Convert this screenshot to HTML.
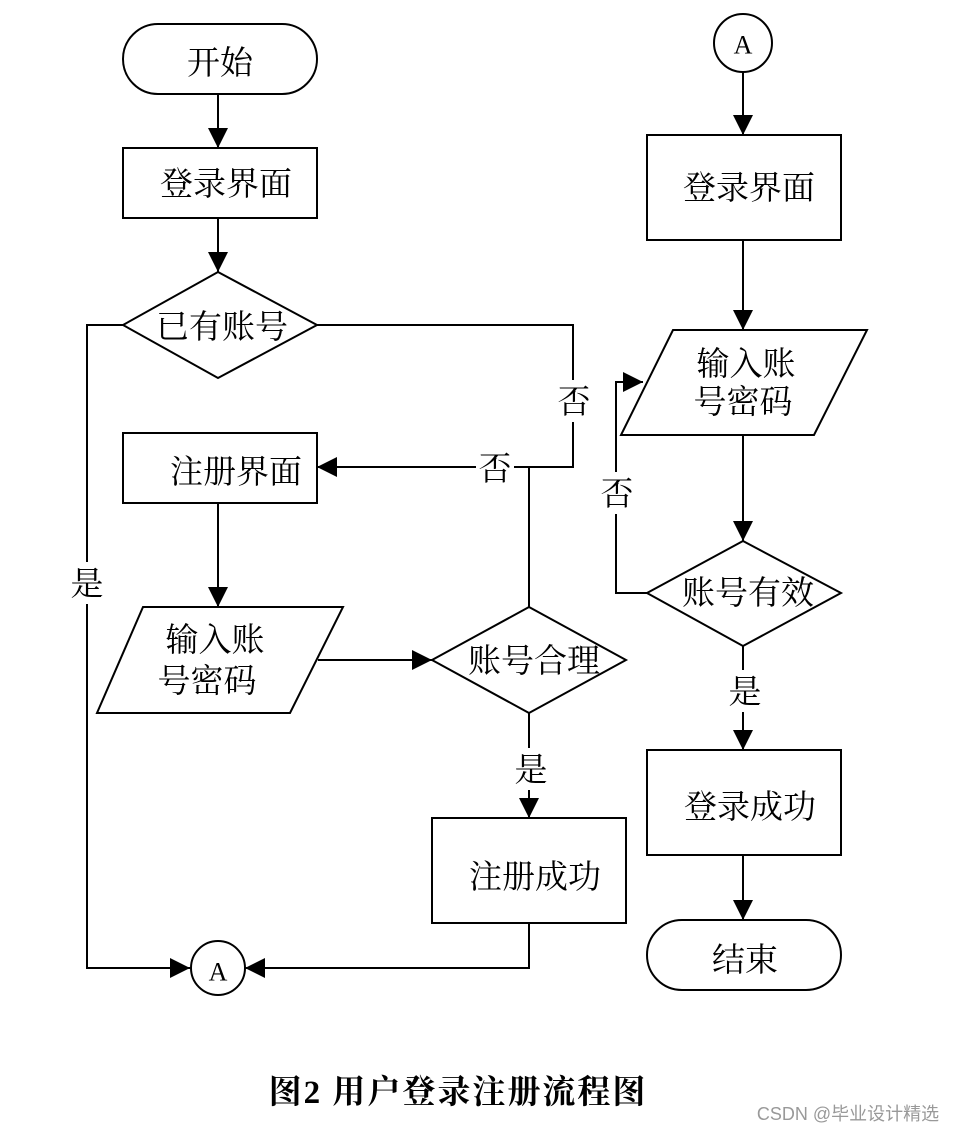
<!DOCTYPE html>
<html><head><meta charset="utf-8"><style>
html,body{margin:0;padding:0;background:#fff;}
svg{display:block;}
text{font-family:"Liberation Serif","Noto Serif CJK SC",serif;font-size:33px;fill:#000;}
</style></head><body>
<svg width="956" height="1136" viewBox="0 0 956 1136" xmlns="http://www.w3.org/2000/svg">
<defs>
<marker id="ar" markerWidth="22" markerHeight="22" refX="20" refY="10" orient="auto" markerUnits="userSpaceOnUse">
<path d="M0,0 L20,10 L0,20 Z" fill="#000"/>
</marker>
</defs>
<g fill="none" stroke="#000" stroke-width="2">
<rect x="123" y="24" width="194" height="70" rx="35"/>
<line x1="218" y1="94" x2="218" y2="148" marker-end="url(#ar)"/>
<rect x="123" y="148" width="194" height="70"/>
<line x1="218" y1="218" x2="218" y2="272" marker-end="url(#ar)"/>
<polygon points="218,272 317,325 218,378 123,325"/>
<polyline points="123,325 87,325 87,968 190,968" marker-end="url(#ar)"/>
<polyline points="317,325 573,325 573,467 317,467" marker-end="url(#ar)"/>
<rect x="123" y="433" width="194" height="70"/>
<line x1="218" y1="503" x2="218" y2="607" marker-end="url(#ar)"/>
<polygon points="143,607 343,607 290,713 97,713"/>
<line x1="318" y1="660" x2="432" y2="660" marker-end="url(#ar)"/>
<polygon points="529,607 626,660 529,713 432,660"/>
<line x1="529" y1="607" x2="529" y2="467"/>
<line x1="529" y1="713" x2="529" y2="818" marker-end="url(#ar)"/>
<rect x="432" y="818" width="194" height="105"/>
<polyline points="529,923 529,968 245,968" marker-end="url(#ar)"/>
<circle cx="218" cy="968" r="27"/>
<circle cx="743" cy="43" r="29"/>
<line x1="743" y1="72" x2="743" y2="135" marker-end="url(#ar)"/>
<rect x="647" y="135" width="194" height="105"/>
<line x1="743" y1="240" x2="743" y2="330" marker-end="url(#ar)"/>
<polygon points="673,330 867,330 814,435 621,435"/>
<line x1="743" y1="435" x2="743" y2="541" marker-end="url(#ar)"/>
<polygon points="743,541 841,593 743,646 647,593"/>
<polyline points="647,593 616,593 616,382 643,382" marker-end="url(#ar)"/>
<line x1="743" y1="646" x2="743" y2="750" marker-end="url(#ar)"/>
<rect x="647" y="750" width="194" height="105"/>
<line x1="743" y1="855" x2="743" y2="920" marker-end="url(#ar)"/>
<rect x="647" y="920" width="194" height="70" rx="35"/>
</g>
<g fill="#fff">
<rect x="70" y="562" width="34" height="42"/>
<rect x="556" y="380" width="36" height="42"/>
<rect x="476" y="447" width="38" height="40"/>
<rect x="512" y="748" width="36" height="42"/>
<rect x="598" y="472" width="36" height="42"/>
<rect x="726" y="670" width="36" height="42"/>
</g>
<g text-anchor="middle" dominant-baseline="central">
<text x="220" y="64">开始</text>
<text x="226" y="185">登录界面</text>
<text x="222" y="328">已有账号</text>
<text x="87" y="585">是</text>
<text x="574" y="403">否</text>
<text x="495" y="470">否</text>
<text x="236" y="473">注册界面</text>
<text x="215" y="641">输入账</text>
<text x="207" y="682">号密码</text>
<text x="534" y="662">账号合理</text>
<text x="531" y="771">是</text>
<text x="535" y="878">注册成功</text>
<text x="218" y="972" style="font-size:26px">A</text>
<text x="743" y="45" style="font-size:26px">A</text>
<text x="749" y="189">登录界面</text>
<text x="746" y="365">输入账</text>
<text x="743" y="403">号密码</text>
<text x="617" y="495">否</text>
<text x="748" y="594">账号有效</text>
<text x="745" y="693">是</text>
<text x="750" y="808">登录成功</text>
<text x="745" y="961">结束</text>
<text x="458" y="1093" style="font-size:33px;font-weight:bold;letter-spacing:2px">图2 用户登录注册流程图</text>
<text x="848" y="1114" style="font-size:18px;fill:#999;font-family:'Liberation Sans','Noto Sans CJK SC',sans-serif">CSDN @毕业设计精选</text>
</g>
</svg>
</body></html>
